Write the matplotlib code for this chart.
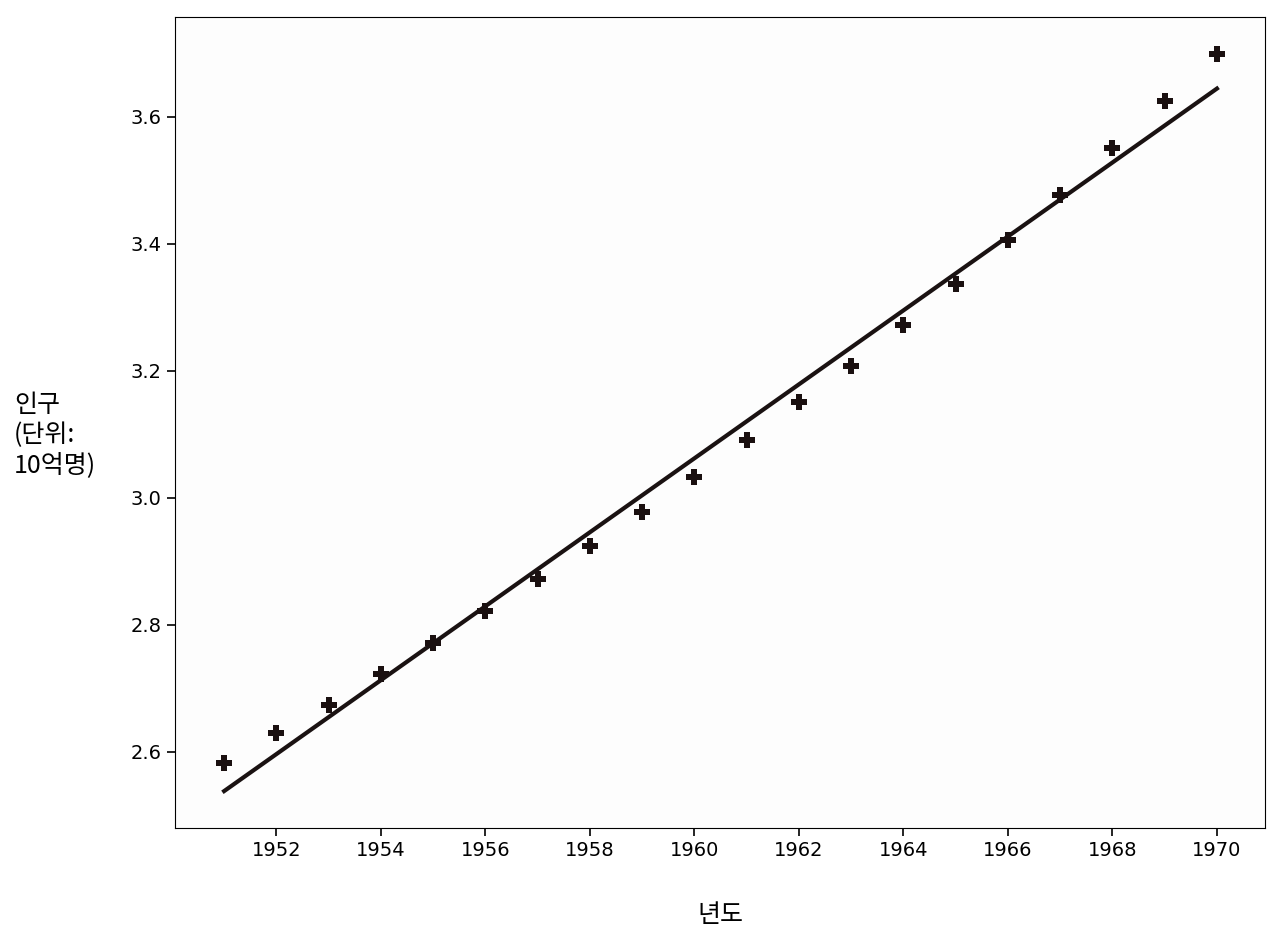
import numpy as np
import matplotlib
matplotlib.use('Agg')
import matplotlib.pyplot as plt

plt.rcParams['font.family'] = ['Noto Sans CJK KR', 'DejaVu Sans']

years = [1951, 1952, 1953, 1954, 1955, 1956, 1957, 1958, 1959, 1960,
         1961, 1962, 1963, 1964, 1965, 1966, 1967, 1968, 1969, 1970]
population = [2.583, 2.630, 2.674, 2.723, 2.772, 2.822, 2.872, 2.924, 2.978, 3.033,
              3.091, 3.150, 3.208, 3.272, 3.337, 3.406, 3.476, 3.550, 3.624, 3.699]

x = np.array(years)
y = np.array(population)
slope, icpt = np.polyfit(x, y, 1)

fig = plt.figure(figsize=(12.8, 9.4), dpi=100)
ax = fig.add_axes([175/1280, 1 - 828/940, 1090/1280, 811/940])
ax.set_facecolor('#fdfdfd')
ax.plot(x, slope * x + icpt, color='#1a1212', lw=3)
ax.plot(x, y, 'P', color='#1a1010', ms=12, mew=0)

ax.set_xlim(1950.06, 1970.92)
ax.set_ylim(2.480, 3.757)
ax.set_xticks(range(1952, 1971, 2))
ax.set_yticks([2.6, 2.8, 3.0, 3.2, 3.4, 3.6])
ax.set_yticklabels(['2.6', '2.8', '3.0', '3.2', '3.4', '3.6'])
ax.tick_params(labelsize=14, length=6, width=1.2)
for lbl in ax.get_xticklabels() + ax.get_yticklabels():
    lbl.set_family('DejaVu Sans')
ax.set_xlabel('년도', fontsize=18, labelpad=30)
fig.text(14/1280, 1 - 435/940, '인구\n(단위:\n10억명)', fontsize=18, va='center', ha='left',
         linespacing=1.2)

fig.savefig('out.png', dpi=100)
